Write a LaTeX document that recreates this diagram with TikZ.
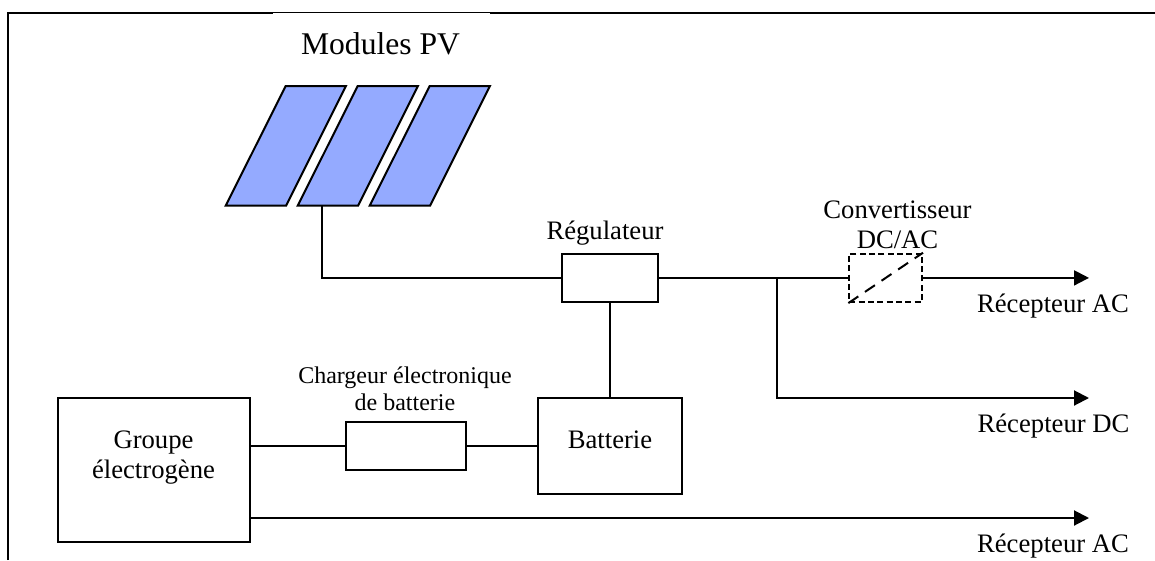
\documentclass[tikz,border=0pt]{standalone}
\usepackage{fontspec}
\usepackage{tikz}
\usetikzlibrary{arrows.meta}
\setmainfont{Liberation Serif}
\definecolor{panelblue}{HTML}{94AAFF}
\tikzset{
	wire/.style={line width=1.5pt},
	arrowwire/.style={wire,-{Triangle[length=11.25pt,width=11.25pt]}},
	box/.style={shape=rectangle,draw=black,line width=1.5pt,inner sep=0pt},
	dashbox/.style={box,dashed,dash pattern=on 4.5pt off 2.5pt},
	panel/.style={draw=black,line width=1.5pt,fill=panelblue,line join=miter},
	txt/.style={inner sep=0pt,align=center,font=\fontsize{20}{22.5}\selectfont},
	smalltxt/.style={inner sep=0pt,align=center,font=\fontsize{18}{20.2}\selectfont}
}

\begin{document}
\begin{tikzpicture}[x=0.75pt,y=-0.75pt]
	\useasboundingbox (0,0) rectangle (1155,560);

	\coordinate (fa) at (8.3,560);
	\coordinate (fb) at (8.3,12.7);
	\coordinate (fc) at (273,12.7);
	\coordinate (fd) at (490,12.7);
	\coordinate (fe) at (1155,12.7);
	\draw[wire,line join=miter] (fa) -- (fb) -- (fc);
	\draw[line width=0.75pt] (fc) -- (fd);
	\draw[wire] (fd) -- (fe);

	\node[inner sep=0pt,font=\fontsize{23.7}{26}\selectfont] (pvtxt) at (380.5,44) {Modules PV};
	\foreach \dx in {0,72,144}
		\draw[panel] (285.7+\dx,86) -- (345.9+\dx,86) -- (286.1+\dx,205.7) -- (225.7+\dx,205.7) -- cycle;
	\coordinate (pv) at (322,205.7);

	\node[box,minimum width=72pt,minimum height=36pt] (reg) at (609.9,277.9) {};
	\node[box,minimum width=108pt,minimum height=72pt] (bat) at (609.9,446) {};
	\node[box,minimum width=90pt,minimum height=36pt] (chg) at (405.7,445.9) {};
	\node[box,minimum width=144pt,minimum height=108pt] (gen) at (153.7,470) {};
	\node[dashbox,minimum width=54.5pt,minimum height=36.3pt] (conv) at (885.7,277.9) {};

	\node[txt] (regtxt) at (605,233) {Régulateur};
	\node[txt] (convtxt) at (897.5,225) {Convertisseur\\DC/AC};
	\node[smalltxt] (chgtxt) at (405,388.5) {Chargeur électronique\\de batterie};
	\node[txt] (gentxt) at (153.5,458) {Groupe\\électrogène};
	\node[txt] (battxt) at (610,440) {Batterie};
	\node[txt] (rectxta) at (1053,306) {Récepteur AC};
	\node[txt] (rectxtb) at (1053.5,426) {Récepteur DC};
	\node[txt] (rectxtc) at (1053,546) {Récepteur AC};

	\coordinate (tee) at (777.3,277.9);
	\coordinate (enda) at (1089,277.9);
	\coordinate (endb) at (1089,398);
	\coordinate (endc) at (1089,518);
	\coordinate (genout) at (249.7,518);

	\draw[wire] (pv) |- (reg.west);
	\draw[wire] (reg.east) -- (conv.west);
	\draw[wire] (reg.south) -- (bat.north);
	\draw[wire] (gen.east |- chg.west) -- (chg.west);
	\draw[wire] (chg.east) -- (bat.west |- chg.east);
	\draw[wire,dashed,dash pattern=on 9pt off 6pt] (conv.south west) -- (conv.north east);
	\draw[arrowwire] (conv.east) -- (enda);
	\draw[arrowwire] (tee) |- (endb);
	\draw[arrowwire] (genout) -- (endc);
\end{tikzpicture}
\end{document}
